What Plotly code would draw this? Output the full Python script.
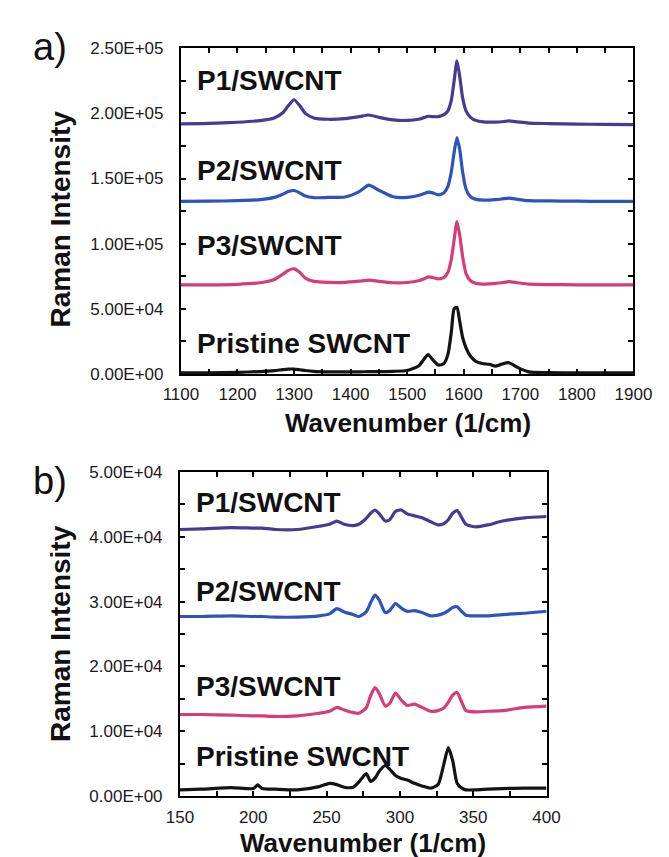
import plotly.graph_objects as go

# ---------------- Panel a data (wavenumber 1100-1900) ----------------
wn_a = [1100, 1150, 1200, 1240, 1265, 1280, 1290, 1300, 1310, 1320, 1335, 1360, 1390, 1415,
        1432, 1450, 1475, 1500, 1520, 1530, 1537, 1545, 1555, 1565, 1572, 1578, 1583, 1588,
        1593, 1598, 1604, 1612, 1622, 1635, 1645, 1656, 1667, 1680, 1695, 1715, 1750, 1800,
        1850, 1900]
p1_a = [192.0, 192.3, 193.2, 194.5, 196.5, 200.5, 206, 210.5, 206, 200, 196.5, 195.5, 196, 197.5,
        198.8, 197, 195, 194.6, 195.5, 196.8, 197.8, 197.5, 197.5, 199, 202, 210, 225, 240.4,
        228, 212, 202, 197, 194.5, 193.5, 193.3, 193.3, 193.6, 194.2, 193.5, 192.6, 192.2, 191.8,
        191.6, 191.4]
p2_a = [132.5, 132.6, 133, 133.8, 135.5, 138, 140, 140.8, 139, 136.5, 135.3, 135.5, 135.8, 140,
        145, 141, 136, 135.5, 137, 138.5, 139.5, 139, 137.5, 139, 144, 155, 170, 181.5,
        172, 155, 142, 136, 134, 133.5, 133.5, 133.8, 134.3, 135, 134, 133, 132.8, 132.6,
        132.5, 132.5]
p3_a = [68.3, 68.4, 68.8, 70, 72.5, 76.5, 79.5, 80.7, 78, 73.5, 71, 70.2, 70.3, 71.2,
        72, 71, 70, 70.2, 71.5, 73, 74.5, 74, 73, 74, 78, 88, 103, 117,
        106, 90, 77, 71.5, 69.5, 69, 69.2, 69.5, 70, 70.8, 70, 69, 68.6, 68.4,
        68.3, 68.3]
pr_a = [0.8, 0.9, 1.2, 1.8, 2.5, 3.3, 3.7, 3.7, 3.2, 2.6, 2.0, 1.6, 1.5, 1.6,
        1.7, 1.8, 2.0, 2.6, 6.0, 11.5, 14.9, 11, 6.8, 8, 15, 32, 50, 51,
        40, 28, 20, 13.5, 9.5, 7.8, 7.4, 5.9, 7.5, 8.6, 5.0, 1.6, 1.0, 0.8,
        0.8, 0.8]

# ---------------- Panel b data (wavenumber 150-400) ----------------
wn_b = [150, 165, 185, 200, 203, 206, 215, 230, 245, 252, 257, 262, 268, 272, 277, 280, 283, 286, 290,
        293, 297, 301, 305, 310, 315, 321, 326, 330, 333, 336, 339, 342, 345, 352, 360, 370,
        385, 400]
p1_b = [41.1, 41.2, 41.4, 41.3, 41.3, 41.3, 41.1, 41.1, 41.6, 41.9, 42.4, 41.9, 41.7, 41.9, 42.8, 43.6, 44.1, 43.5, 42.4,
        42.6, 43.9, 44.1, 43.5, 43.2, 42.9, 42.3, 41.8, 42.0, 42.6, 43.6, 44.0, 43.0, 41.9, 41.5, 41.8, 42.4,
        42.9, 43.1]
p2_b = [27.7, 27.7, 27.8, 27.7, 27.7, 27.7, 27.6, 27.6, 27.8, 28.1, 28.9, 28.4, 28.0, 27.7, 28.4, 29.8, 31.0, 30.2, 28.3,
        28.6, 29.7, 29.0, 28.5, 28.6, 28.3, 27.8, 27.9, 28.2, 28.6, 29.1, 29.2, 28.5, 27.9, 27.8, 27.8, 28.0,
        28.2, 28.5]
p3_b = [12.6, 12.6, 12.5, 12.4, 12.4, 12.4, 12.3, 12.4, 12.8, 13.1, 13.7, 13.3, 12.9, 12.8, 13.6, 15.5, 16.75, 15.8, 13.9,
        14.3, 15.9, 14.8, 14.0, 14.2, 13.7, 13.1, 13.2, 13.6, 14.5, 15.6, 16.0, 14.6, 13.2, 13.0, 13.1, 13.2,
        13.7, 13.9]
pr_b = [1.0, 1.1, 1.35, 1.2, 1.75, 1.2, 1.1, 1.0, 1.5, 2.0, 1.8, 1.4, 1.4, 2.2, 3.5, 2.3, 2.8, 3.9, 4.75,
        4.2, 3.2, 2.75, 2.5, 2.0, 1.6, 1.25, 1.8, 5.0, 7.5, 5.5, 2.0, 1.3, 1.0, 1.0, 1.1, 1.2,
        1.25, 1.25]

series_names = ["P1/SWCNT", "P2/SWCNT", "P3/SWCNT", "Pristine SWCNT"]
series_colors = ["#463b92", "#2f53bd", "#d63d78", "#141414"]

xticks_a = list(range(1100, 1901, 50))
xtext_a = [str(v) if v % 100 == 0 else "" for v in xticks_a]
yticks_a = [i * 25000 for i in range(11)]
ytext_a = [f"{v:.2E}" if v % 50000 == 0 else "" for v in yticks_a]

xticks_b = list(range(150, 401, 25))
xtext_b = [str(v) if v % 50 == 0 else "" for v in xticks_b]
yticks_b = [i * 5000 for i in range(11)]
ytext_b = [f"{v:.2E}" if v % 10000 == 0 else "" for v in yticks_b]

W, H = 669, 857
FONT = "Liberation Sans, Arial, sans-serif"

fig = go.Figure()
for name, col, ya in zip(series_names, series_colors, [p1_a, p2_a, p3_a, pr_a]):
    fig.add_trace(go.Scatter(x=wn_a, y=[v * 1000 for v in ya], mode="lines", name=name,
                             line=dict(color=col, width=3.2, shape="spline", smoothing=0.6),
                             xaxis="x", yaxis="y", showlegend=False))
for name, col, yb in zip(series_names, series_colors, [p1_b, p2_b, p3_b, pr_b]):
    fig.add_trace(go.Scatter(x=wn_b, y=[v * 1000 for v in yb], mode="lines", name=name,
                             line=dict(color=col, width=3.2, shape="spline", smoothing=0.6),
                             xaxis="x2", yaxis="y2", showlegend=False))

def px_x(p):
    return p / W

def px_y(p):
    return 1 - p / H

axis_common = dict(showline=True, linewidth=2, linecolor="black", mirror="ticks",
                   ticks="inside", ticklen=5, tickwidth=1.5, tickcolor="black",
                   showgrid=False, zeroline=False,
                   tickfont=dict(family=FONT, size=17, color="#1a1a1a"))

fig.update_layout(
    width=W, height=H,
    margin=dict(l=0, r=0, t=0, b=0),
    paper_bgcolor="white", plot_bgcolor="white",
    xaxis=dict(domain=[px_x(164), px_x(643)], range=[1100, 1900], anchor="y",
               tickmode="array", tickvals=xticks_a, ticktext=xtext_a, ticklabelstandoff=4,
               **axis_common),
    yaxis=dict(domain=[px_y(365), px_y(32)], range=[0, 250000], anchor="x",
               tickmode="array", tickvals=yticks_a, ticktext=ytext_a, ticklabelstandoff=12,
               **axis_common),
    xaxis2=dict(domain=[px_x(163), px_x(551)], range=[150, 400], anchor="y2",
                tickmode="array", tickvals=xticks_b, ticktext=xtext_b, ticklabelstandoff=4,
                **axis_common),
    yaxis2=dict(domain=[px_y(797), px_y(465)], range=[0, 50000], anchor="x2",
                tickmode="array", tickvals=yticks_b, ticktext=ytext_b, ticklabelstandoff=12,
                **axis_common),
)

ann = []
# series labels
for name, ypx in zip(series_names, [65, 157, 234, 334]):
    ann.append(dict(x=px_x(179), y=px_y(ypx), text=name, showarrow=False,
                    xref="paper", yref="paper", xanchor="left", yanchor="middle",
                    font=dict(family=FONT, size=28, color="#111", weight="bold")))
for name, ypx in zip(series_names, [496, 588, 685, 756]):
    ann.append(dict(x=px_x(178), y=px_y(ypx), text=name, showarrow=False,
                    xref="paper", yref="paper", xanchor="left", yanchor="middle",
                    font=dict(family=FONT, size=28, color="#111", weight="bold")))
# axis titles
for cx, cy in [(404, 415), (357, 845)]:
    ann.append(dict(x=px_x(cx), y=px_y(cy), text="Wavenumber (1/cm)", showarrow=False,
                    xref="paper", yref="paper", xanchor="center", yanchor="middle",
                    font=dict(family=FONT, size=26, color="#111", weight="bold")))
for cy in [207, 631]:
    ann.append(dict(x=px_x(36), y=px_y(cy), text="Raman Intensity", showarrow=False,
                    textangle=-90, xref="paper", yref="paper", xanchor="center", yanchor="middle",
                    font=dict(family=FONT, size=28, color="#111", weight="bold")))
# panel letters
for txt, cy in [("a)", 31), ("b)", 475)]:
    ann.append(dict(x=px_x(5), y=px_y(cy), text=txt, showarrow=False,
                    xref="paper", yref="paper", xanchor="left", yanchor="middle",
                    font=dict(family=FONT, size=38, color="#111")))
fig.update_layout(annotations=ann)

fig.write_html("out.html")
